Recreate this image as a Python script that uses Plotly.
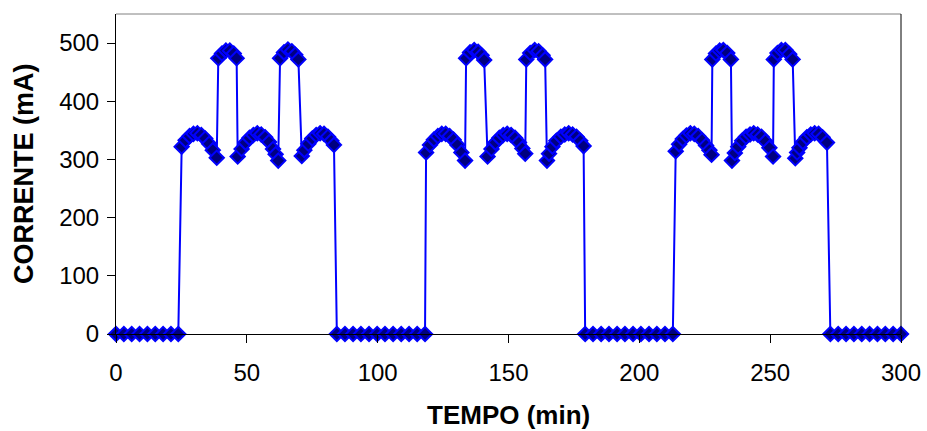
import plotly.graph_objects as go

# ---- data: time (min) and current (mA) ----
t_off1 = [0, 3, 6, 9, 12, 15, 18, 21, 23.8]
i_off1 = [0, 0, 0, 0, 0, 0, 0, 0, 0]

t_on1 = [25.1, 26.6, 28.1, 29.6, 31.1, 32.6, 34.1, 35.6, 37.0, 38.5,
         39.1, 40.5, 42.0, 43.5, 45.0, 46.1,
         46.5, 48.0, 49.5, 51.0, 52.5, 54.0, 55.5, 57.0, 58.5, 60.0, 61.0, 62.0,
         62.7, 64.2, 65.7, 67.2, 68.5, 69.7,
         71.0, 72.0, 73.5, 75.0, 76.5, 78.0, 79.5, 81.0, 82.3, 83.3]
i_on1 = [322, 333, 340, 344, 345, 342, 336, 327, 316, 303,
         474, 482, 487, 487, 482, 474,
         305, 318, 329, 337, 342, 345, 343, 338, 330, 318, 309, 298,
         474, 484, 489, 486, 480, 472,
         306, 316, 327, 336, 342, 345, 344, 339, 332, 325]

t_off2 = [84.4, 87.5, 90.6, 93.6, 96.7, 99.8, 102.8, 105.9, 109.0, 112.0, 115.1, 118.1]
i_off2 = [0, 0, 0, 0, 0, 0, 0, 0, 0, 0, 0, 0]

t_on2 = [118.5, 120.0, 121.5, 123.0, 124.5, 126.0, 127.5, 129.0, 130.5, 132.0, 133.4,
         133.8, 135.3, 136.9, 138.4, 139.7, 140.7,
         142.0, 143.5, 145.0, 146.5, 148.0, 149.5, 151.0, 152.5, 154.0, 155.3, 156.4,
         156.8, 158.3, 160.0, 161.5, 163.0, 164.0,
         164.7, 165.5, 166.8, 168.3, 170.0, 171.5, 173.0, 174.5, 176.0, 177.4, 178.7]
i_on2 = [312, 325, 334, 340, 344, 344, 340, 334, 325, 312, 298,
         474, 484, 488, 485, 479, 471,
         305, 318, 329, 337, 342, 344, 342, 337, 329, 319, 310,
         472, 483, 488, 486, 479, 472,
         298, 310, 322, 332, 339, 343, 345, 343, 339, 332, 323]

t_off3 = [179.3, 182.3, 185.4, 188.4, 191.5, 194.5, 197.6, 200.6, 203.7, 206.7, 209.8, 212.8]
i_off3 = [0, 0, 0, 0, 0, 0, 0, 0, 0, 0, 0, 0]

t_on3 = [213.9, 215.2, 216.6, 218.0, 219.5, 221.0, 222.5, 224.0, 225.5, 226.8, 227.6,
         227.9, 229.3, 230.7, 232.1, 233.6, 235.0,
         235.4, 236.5, 237.8, 239.3, 240.8, 242.3, 243.7, 245.2, 246.7, 248.2, 249.7, 251.1,
         251.4, 252.8, 254.3, 255.8, 257.3, 258.6,
         259.6, 260.3, 261.2, 262.5, 264.0, 265.5, 267.0, 268.5, 270.0, 271.7]
i_on3 = [314, 326, 335, 341, 345, 344, 340, 333, 324, 316, 308,
         472, 482, 487, 488, 483, 472,
         298, 311, 322, 332, 339, 343, 345, 343, 339, 331, 320, 305,
         472, 483, 488, 488, 481, 472,
         302, 312, 320, 330, 338, 343, 345, 344, 338, 329]

t_off4 = [273, 276, 279, 282, 285, 288, 291, 294, 297, 300]
i_off4 = [0, 0, 0, 0, 0, 0, 0, 0, 0, 0]

x_ticks = [0, 50, 100, 150, 200, 250, 300]
y_ticks = [0, 100, 200, 300, 400, 500]
x_title = "TEMPO (min)"
y_title = "CORRENTE (mA)"

tempo = t_off1 + t_on1 + t_off2 + t_on2 + t_off3 + t_on3 + t_off4
corrente = i_off1 + i_on1 + i_off2 + i_on2 + i_off3 + i_on3 + i_off4

fig = go.Figure()
fig.add_trace(go.Scatter(
    x=tempo, y=corrente, mode="lines+markers",
    line=dict(color="#0000FF", width=2),
    marker=dict(symbol="diamond", size=11, color="#000080",
                line=dict(color="#0000FF", width=2)),
    cliponaxis=False, showlegend=False,
))

font_family = "Liberation Sans, Arial, sans-serif"
fig.update_layout(
    width=927, height=431,
    margin=dict(l=116, r=26, t=14, b=97),
    paper_bgcolor="white", plot_bgcolor="white",
    font=dict(family=font_family, color="black", size=24),
)
fig.update_xaxes(
    range=[0, 300], tickvals=x_ticks, ticktext=[str(v) for v in x_ticks],
    showgrid=False, zeroline=False, showline=True, linecolor="black", linewidth=1,
    ticks="outside", ticklen=8, tickcolor="black", tickwidth=1,
    tickfont=dict(size=24, family=font_family), automargin=False,
    ticklabelstandoff=9,
)
fig.update_yaxes(
    range=[0, 550], tickvals=y_ticks, ticktext=[str(v) for v in y_ticks],
    showgrid=False, zeroline=False, showline=True, linecolor="black", linewidth=1,
    ticks="outside", ticklen=8, tickcolor="black", tickwidth=1,
    tickfont=dict(size=24, family=font_family), automargin=False,
    ticklabelstandoff=3,
)
# axis titles
fig.add_annotation(text="<b>" + x_title + "</b>", xref="paper", yref="paper",
                   x=0.5, y=0, xanchor="center", yanchor="middle", yshift=-81,
                   showarrow=False, font=dict(size=26, family=font_family, color="black"))
fig.add_annotation(text="<b>" + y_title + "</b>", xref="paper", yref="paper",
                   x=0, y=0.5, xanchor="center", yanchor="middle", xshift=-92,
                   textangle=-90, showarrow=False,
                   font=dict(size=27, family=font_family, color="black"))
# plot-area frame (top and right edges)
fig.add_shape(type="line", xref="paper", yref="paper", x0=0, x1=1, y0=1, y1=1,
              line=dict(color="#808080", width=1))
fig.add_shape(type="line", xref="paper", yref="paper", x0=1, x1=1, y0=0, y1=1,
              line=dict(color="black", width=1))

fig.write_html("out.html", config={"displayModeBar": False},
               post_script="document.body.style.margin='0';document.body.style.padding='0';")
